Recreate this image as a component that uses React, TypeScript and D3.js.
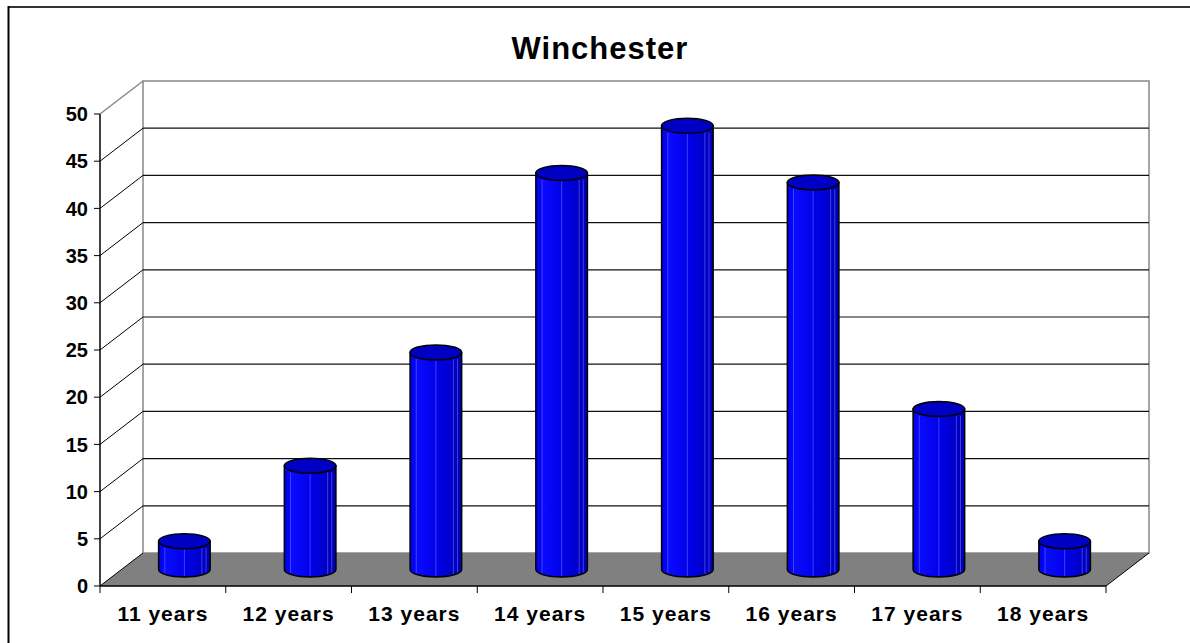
import React from "react"
import * as d3 from "d3"

// chart data
const categories = ["11 years", "12 years", "13 years", "14 years", "15 years", "16 years", "17 years", "18 years"]
const values = [3, 11, 23, 42, 47, 41, 17, 3]
const yTickValues = [0, 5, 10, 15, 20, 25, 30, 35, 40, 45, 50]

const W = 1190
const H = 643
// front plane of the plot and depth offset of the 3D box
const left = 100
const right = 1106
const bottom = 586
const top = 114
const dx = 43
const dy = -33

const font = "Arial, 'Liberation Sans', sans-serif"

const App = () => {
	const x = d3.scaleBand<string>().domain(categories).range([left, right])
	const y = d3.scaleLinear().domain([0, 50]).range([bottom, top])

	const rx = x.bandwidth() * 0.205
	const ry = 7.5
	const stripes = [0.12, 0.5, 0.84, 0.92]

	// floor polygon
	const floor = [
		[left, bottom],
		[right, bottom],
		[right + dx, bottom + dy],
		[left + dx, bottom + dy],
	]
	const line = d3.line()

	return (
		<svg
			width={W}
			height={H}
			style={{ position: "absolute", left: 0, top: 0, background: "#fff" }}
		>
			<defs>
				<linearGradient id="cyl" x1="0" x2="1" y1="0" y2="0">
					<stop offset="0%" stopColor="#0000e8" />
					<stop offset="15%" stopColor="#0a0aff" />
					<stop offset="55%" stopColor="#0000e6" />
					<stop offset="100%" stopColor="#0000b4" />
				</linearGradient>
			</defs>

			{/* outer frame */}
			<line x1={8} y1={7} x2={W} y2={7} stroke="#333" strokeWidth={2} />
			<line x1={8.5} y1={6} x2={8.5} y2={H} stroke="#000" strokeWidth={2} />

			{/* title */}
			<text
				x={600}
				y={59}
				textAnchor="middle"
				fontFamily={font}
				fontWeight="bold"
				fontSize={31}
				letterSpacing={1}
			>
				Winchester
			</text>

			{/* back wall */}
			<rect
				x={left + dx}
				y={top + dy}
				width={right - left}
				height={bottom - top}
				fill="#fff"
				stroke="#888"
				strokeWidth={1.5}
			/>
			{/* left wall top edge */}
			<line x1={left} y1={top} x2={left + dx} y2={top + dy} stroke="#888" strokeWidth={1.5} />

			{/* gridlines */}
			{yTickValues
				.filter(v => v > 0 && v < 50)
				.map(v => (
					<g key={v}>
						<line
							x1={left}
							y1={y(v)}
							x2={left + dx}
							y2={y(v) + dy}
							stroke="#000"
							strokeWidth={1}
						/>
						<line
							x1={left + dx}
							y1={y(v) + dy}
							x2={right + dx}
							y2={y(v) + dy}
							stroke="#111"
							strokeWidth={1.2}
						/>
					</g>
				))}

			{/* floor */}
			<path d={line(floor as [number, number][]) + "Z"} fill="#808080" />
			<line x1={left} y1={bottom} x2={left + dx} y2={bottom + dy} stroke="#000" strokeWidth={1} />
			<line x1={right} y1={bottom} x2={right + dx} y2={bottom + dy} stroke="#000" strokeWidth={1} />

			{/* cylinders */}
			{categories.map((c, i) => {
				const cx = (x(c) as number) + x.bandwidth() / 2 + dx / 2
				const yb = y(0) + dy / 2
				const yt = y(values[i]) + dy / 2
				const side = `M${cx - rx},${yt} L${cx - rx},${yb} A${rx},${ry} 0 0 0 ${cx + rx},${yb} L${cx + rx},${yt} Z`
				return (
					<g key={c}>
						<path d={side} fill="url(#cyl)" stroke="none" />
						{stripes.map(s => (
							<line
								key={s}
								x1={cx - rx + 2 * rx * s}
								x2={cx - rx + 2 * rx * s}
								y1={yt + ry * 0.9}
								y2={yb + ry * Math.sqrt(1 - Math.pow(2 * s - 1, 2)) - 1}
								stroke="#7070ff"
								strokeOpacity={0.55}
								strokeWidth={1}
							/>
						))}
						<path d={side} fill="none" stroke="#000" strokeWidth={1.5} />
						<ellipse
							cx={cx}
							cy={yt}
							rx={rx}
							ry={ry}
							fill="#0000c4"
							stroke="#000"
							strokeWidth={1.5}
						/>
					</g>
				)
			})}

			{/* y axis */}
			<line x1={left} y1={top} x2={left} y2={bottom} stroke="#000" strokeWidth={1.5} />
			{yTickValues.map(v => (
				<g key={v}>
					<line x1={left - 6} y1={y(v)} x2={left} y2={y(v)} stroke="#000" strokeWidth={1} />
					<text
						x={left - 12}
						y={y(v)}
						dy="0.36em"
						textAnchor="end"
						fontFamily={font}
						fontWeight="bold"
						fontSize={20}
					>
						{v}
					</text>
				</g>
			))}

			{/* x axis */}
			<line x1={left} y1={bottom} x2={right} y2={bottom} stroke="#000" strokeWidth={1.5} />
			{[...categories.map(c => x(c) as number), right].map((t, i) => (
				<line key={i} x1={t} y1={bottom} x2={t} y2={bottom + 7} stroke="#000" strokeWidth={1} />
			))}
			{categories.map(c => (
				<text
					key={c}
					x={(x(c) as number) + x.bandwidth() / 2}
					y={621}
					textAnchor="middle"
					fontFamily={font}
					fontWeight="bold"
					fontSize={21}
					letterSpacing={1}
				>
					{c}
				</text>
			))}
		</svg>
	)
}

export default App
